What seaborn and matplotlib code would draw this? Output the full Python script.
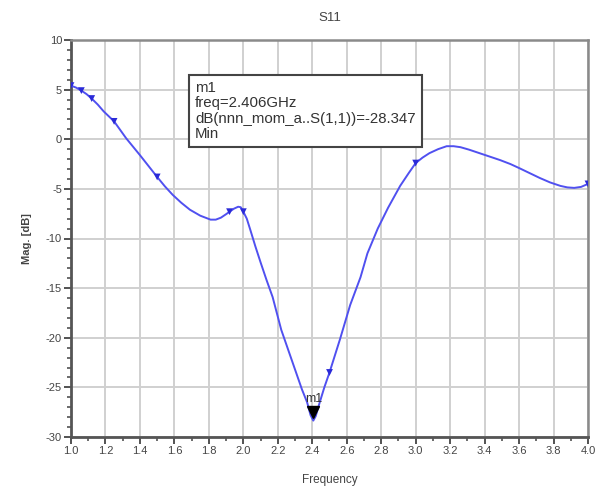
import matplotlib
matplotlib.use("Agg")
import matplotlib.pyplot as plt
from matplotlib.ticker import MultipleLocator
import seaborn as sns
import pandas as pd

# S11 magnitude sweep (GHz, dB)
freq = [1.00, 1.03, 1.06, 1.09, 1.12, 1.155, 1.19, 1.22, 1.25, 1.285, 1.32, 1.36,
        1.40, 1.45, 1.50, 1.545, 1.59, 1.64, 1.69, 1.75, 1.81, 1.84, 1.87, 1.90,
        1.92, 1.945, 1.97, 1.985, 2.00, 2.02, 2.04, 2.07, 2.10, 2.135, 2.17, 2.22,
        2.28, 2.34, 2.37, 2.39, 2.406, 2.42, 2.44, 2.47, 2.50, 2.56, 2.62, 2.68,
        2.72, 2.78, 2.84, 2.91, 2.96, 3.00, 3.04, 3.08, 3.13, 3.18, 3.22, 3.26,
        3.31, 3.37, 3.43, 3.49, 3.55, 3.60, 3.66, 3.72, 3.78, 3.84, 3.88, 3.92,
        3.96, 4.00]
mag = [5.4, 5.2, 4.9, 4.55, 4.1, 3.5, 2.8, 2.3, 1.8, 0.95, 0.1, -0.75,
       -1.6, -2.7, -3.8, -4.75, -5.6, -6.4, -7.1, -7.7, -8.1, -8.1, -7.9, -7.55,
       -7.3, -7.0, -6.8, -6.85, -7.3, -8.0, -9.1, -10.8, -12.4, -14.2, -15.9, -19.2,
       -22.2, -25.2, -26.5, -27.8, -28.347, -27.9, -26.7, -25.0, -23.5, -20.2, -16.7, -13.9,
       -11.5, -9.0, -6.9, -4.7, -3.4, -2.4, -1.85, -1.4, -1.0, -0.7, -0.7, -0.8,
       -1.05, -1.4, -1.75, -2.1, -2.5, -2.9, -3.4, -3.9, -4.35, -4.7, -4.85, -4.9,
       -4.8, -4.5]

# simulation sample markers along the trace
mark_freq = [1.00, 1.06, 1.12, 1.25, 1.50, 1.92, 2.00, 2.50, 3.00, 4.00]
mark_mag = [5.4, 4.9, 4.1, 1.8, -3.8, -7.3, -7.3, -23.5, -2.4, -4.5]

# marker m1 readout
m1_freq = 2.406
m1_mag = -28.347
m1_lines = ["m1", "freq=2.406GHz", "dB(nnn_mom_a..S(1,1))=-28.347", "Min"]

y_ticks = [10, 5, 0, -5, -10, -15, -20, -25, -30]
x_ticks = [1.0, 1.2, 1.4, 1.6, 1.8, 2.0, 2.2, 2.4, 2.6, 2.8, 3.0, 3.2, 3.4, 3.6, 3.8, 4.0]

sns.set_theme(style="white")
plt.rcParams["font.family"] = ["Liberation Sans", "DejaVu Sans"]

fig = plt.figure(figsize=(6.02, 4.88), dpi=100)
ax = fig.add_axes([71 / 602, 51 / 488, 517 / 602, 397 / 488])

trace = pd.DataFrame({"freq": freq, "mag": mag})
marks = pd.DataFrame({"freq": mark_freq, "mag": mark_mag})

line_color = "#5050f0"
sns.lineplot(data=trace, x="freq", y="mag", ax=ax, color=line_color, lw=1.4,
             sort=False, zorder=3)
sns.scatterplot(data=marks, x="freq", y="mag", ax=ax, marker="v", s=24,
                color="#2a2ad8", edgecolor="none", zorder=4)

# m1 marker: triangle tip on the minimum
ax.plot([m1_freq], [m1_mag + 0.9], marker="v", ms=8.5, color="black",
        linestyle="none", zorder=5)
ax.text(m1_freq, m1_mag + 1.6, "m1", ha="center", va="bottom", fontsize=9,
        color="#333333", zorder=6)

ax.set_xlim(1.0, 4.0)
ax.set_ylim(-30, 10)
ax.set_xticks(x_ticks)
ax.set_xticklabels([f"{v:.1f}" for v in x_ticks])
ax.set_yticks(y_ticks)
ax.set_yticklabels([str(v) for v in y_ticks])
ax.xaxis.set_minor_locator(MultipleLocator(0.1))
ax.yaxis.set_minor_locator(MultipleLocator(1))

ax.grid(True, which="major", color="#d0d0d0", lw=1.4)
ax.tick_params(axis="both", which="major", direction="out", length=5, width=1.3,
               color="#444444", labelsize=8, labelcolor="#444444", pad=1.5,
               bottom=True, left=True)
ax.tick_params(axis="both", which="minor", direction="out", length=3, width=1.1,
               color="#444444", bottom=True, left=True)

for side in ["left", "bottom"]:
    ax.spines[side].set_color("#555555")
    ax.spines[side].set_linewidth(2.0)
for side in ["top", "right"]:
    ax.spines[side].set_color("#8a8a8a")
    ax.spines[side].set_linewidth(1.8)

ax.set_xlabel("Frequency", fontsize=8.5, color="#444444", labelpad=13)
ax.set_ylabel("Mag. [dB]", fontsize=8, color="#444444", fontweight="bold", labelpad=10)
ax.set_title("S11", fontsize=9.5, color="#444444", pad=14)

# readout box
ax.text(1.72, 2.85, "\n".join(m1_lines), ha="left", va="center", fontsize=10.8,
        color="#333333", linespacing=1.12, zorder=7,
        bbox=dict(boxstyle="square,pad=0.4", facecolor="white",
                  edgecolor="#444444", linewidth=1.5))

fig.savefig("out.png", dpi=100)
